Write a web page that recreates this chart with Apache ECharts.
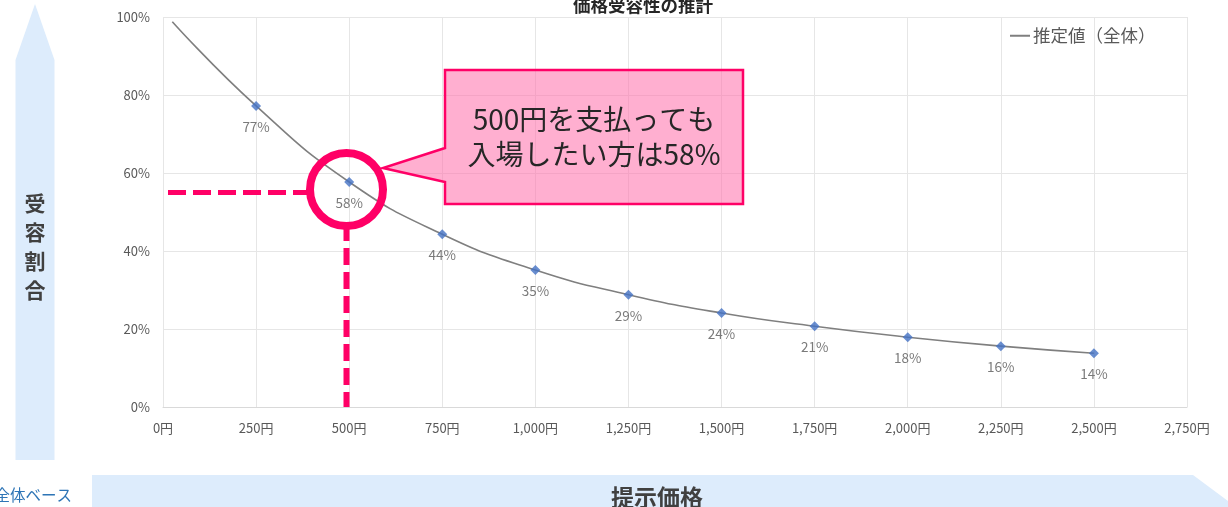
<!DOCTYPE html>
<html>
<head>
<meta charset="utf-8">
<script src="https://cdn.jsdelivr.net/npm/echarts@6/dist/echarts.min.js"></script>
<style>
html,body{margin:0;padding:0;background:#fff;}
#chart{width:1228px;height:507px;}
</style>
</head>
<body>
<div id="chart"></div>
<script>
// ---- data ----
var titleText = '価格受容性の推計';
var seriesName = '推定値（全体）';
var prices = [250, 500, 750, 1000, 1250, 1500, 1750, 2000, 2250, 2500];
var acceptance = [0.772, 0.577, 0.443, 0.351, 0.288, 0.241, 0.207, 0.179, 0.156, 0.138];
var curveStart = [25, 0.988];
var xTicks = [0, 250, 500, 750, 1000, 1250, 1500, 1750, 2000, 2250, 2500, 2750];
var yTicks = [0, 0.2, 0.4, 0.6, 0.8, 1.0];
var yAxisTitle = '受\n容\n割\n合';
var xAxisTitle = '提示価格';
var baseNote = '全体ベース';
var calloutText = '500円を支払っても\n入場したい方は58%';

var FONT = '"Noto Sans CJK JP", "Noto Sans", sans-serif';
var pink = '#FF0066';
var lightBlue = '#DDECFC';

var curveData = [curveStart].concat(prices.map(function (p, i) { return [p, acceptance[i]]; }));
var pointData = prices.map(function (p, i) { return [p, acceptance[i]]; });

var chart = echarts.init(document.getElementById('chart'));
chart.setOption({
  animation: false,
  backgroundColor: '#fff',
  textStyle: { fontFamily: FONT },
  title: {
    text: titleText,
    left: 573, top: -4, padding: 0,
    textStyle: { fontFamily: FONT, fontSize: 17.5, fontWeight: 'bold', color: '#262626', lineHeight: 18 }
  },
  legend: {
    left: 1010, top: 27, padding: 0,
    itemWidth: 20, itemHeight: 2, itemGap: 4,
    icon: 'rect',
    data: [seriesName],
    textStyle: { fontFamily: FONT, fontSize: 17.5, color: '#595959', padding: [0, 0, 0, -2] }
  },
  grid: { left: 163, top: 17, right: 41, bottom: 100, containLabel: false },
  xAxis: {
    type: 'value', min: 0, max: 2750, interval: 250,
    axisLine: { show: true, lineStyle: { color: '#D9D9D9', width: 1 } },
    axisTick: { show: false },
    splitLine: { show: true, lineStyle: { color: '#E6E6E6', width: 1 } },
    axisLabel: {
      margin: 15, fontSize: 13, color: '#595959', fontFamily: FONT,
      showMaxLabel: true, showMinLabel: true,
      formatter: function (v) { return v.toLocaleString('en-US') + '円'; }
    }
  },
  yAxis: {
    type: 'value', min: 0, max: 1, interval: 0.2,
    axisLine: { show: false }, axisTick: { show: false },
    splitLine: { show: true, lineStyle: { color: '#E6E6E6', width: 1 } },
    axisLabel: {
      margin: 13, fontSize: 13, color: '#595959', fontFamily: FONT,
      formatter: function (v) { return Math.round(v * 100) + '%'; }
    }
  },
  series: [
    {
      name: seriesName, type: 'line', data: curveData,
      smooth: 0.5,
      showSymbol: false, symbol: 'none',
      itemStyle: { color: '#7F7F7F' },
      lineStyle: { color: '#7F7F7F', width: 1.6 },
      z: 2
    },
    {
      name: 'points', type: 'scatter', data: pointData,
      symbol: 'diamond', symbolSize: 10,
      itemStyle: { color: '#4472C4' },
      label: {
        show: true, position: 'bottom', distance: 9,
        fontSize: 13.5, color: '#595959', fontFamily: FONT,
        formatter: function (p) { return Math.round(p.value[1] * 100) + '%'; }
      },
      z: 3
    }
  ],
  graphic: [
    {
      type: 'polygon', z: -10, silent: true,
      shape: { points: [[35, 4], [54.5, 60], [54.5, 460], [15.5, 460], [15.5, 60]] },
      style: { fill: lightBlue }
    },
    {
      type: 'text', z: -9, silent: true, x: 35, y: 247,
      style: { text: yAxisTitle, fontFamily: FONT, fontSize: 21, fontWeight: 'bold', fill: '#404040',
        lineHeight: 29, align: 'center', verticalAlign: 'middle' }
    },
    {
      type: 'polygon', z: -10, silent: true,
      shape: { points: [[92, 475], [1193, 475], [1240, 510], [92, 510]] },
      style: { fill: lightBlue }
    },
    {
      type: 'text', z: -9, silent: true, x: 657, y: 497,
      style: { text: xAxisTitle, fontFamily: FONT, fontSize: 23, fontWeight: 'bold', fill: '#404040',
        align: 'center', verticalAlign: 'middle' }
    },
    {
      type: 'text', silent: true, x: 72, y: 495,
      style: { text: baseNote, fontFamily: FONT, fontSize: 15.5, fill: '#2E75B6',
        align: 'right', verticalAlign: 'middle' }
    },
    {
      type: 'line', z: 50, silent: true,
      shape: { x1: 168, y1: 192.5, x2: 307, y2: 192.5 },
      style: { stroke: pink, lineWidth: 5, lineDash: [18, 7] }
    },
    {
      type: 'line', z: 50, silent: true,
      shape: { x1: 346.5, y1: 224, x2: 346.5, y2: 407 },
      style: { stroke: pink, lineWidth: 6, lineDash: [17, 7] }
    },
    {
      type: 'circle', z: 51, silent: true,
      shape: { cx: 346.5, cy: 189.5, r: 36.5 },
      style: { fill: 'none', stroke: pink, lineWidth: 8 }
    },
    {
      type: 'polygon', z: 52, silent: true,
      shape: { points: [[445, 70], [743, 70], [743, 204], [445, 204], [445, 182], [383, 168], [445, 148]] },
      style: { fill: 'rgba(255,110,170,0.55)', stroke: pink, lineWidth: 2.5, lineJoin: 'miter' }
    },
    {
      type: 'text', z: 53, silent: true, x: 594, y: 137,
      style: { text: calloutText, fontFamily: FONT, fontSize: 28, fill: '#262626',
        lineHeight: 35, align: 'center', verticalAlign: 'middle' }
    }
  ]
});
</script>
</body>
</html>
